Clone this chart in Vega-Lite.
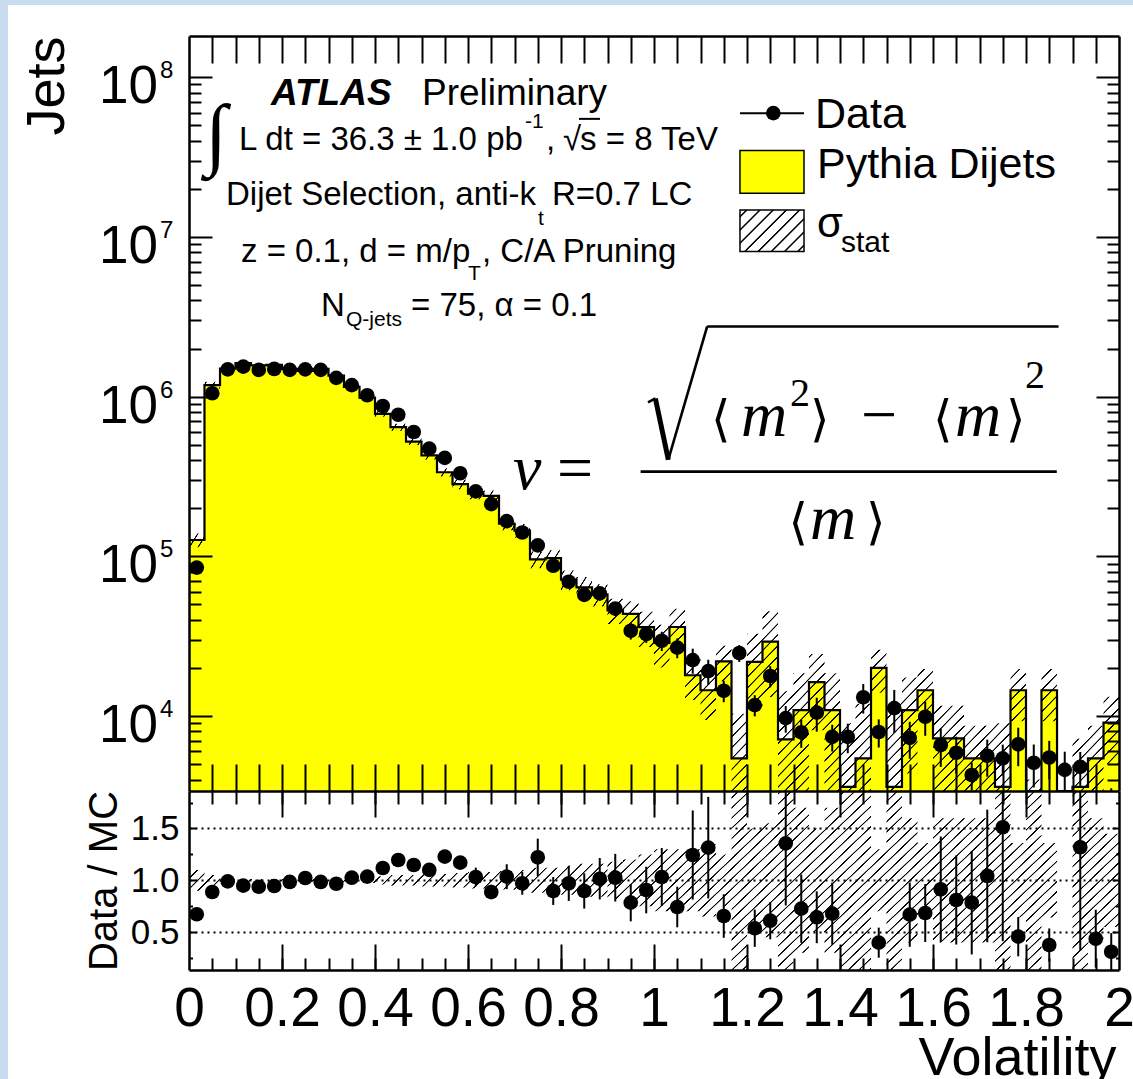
{
  "$schema": "https://vega.github.io/schema/vega-lite/v6.json",
  "width": 930,
  "height": 934,
  "autosize": {"type": "none"},
  "padding": {"left": 189, "top": 36, "right": 14, "bottom": 109},
  "background": "#c8dcef",
  "config": {
    "view": {"stroke": null},
    "axis": {"labelFont": "Liberation Sans", "titleFont": "Liberation Sans", "titleFontWeight": "normal", "labelColor": "black", "titleColor": "black", "tickColor": "black", "domainColor": "black", "grid": false}
  },
  "params": [
    {"name": "hatchA", "value": {"gradient": "linear", "x1": 0, "y1": 0, "x2": 1.2045, "y2": 0.4397, "stops": [
{"offset":0.0045,"color":"transparent"},{"offset":0.0055,"color":"#000"},{"offset":0.0070,"color":"#000"},{"offset":0.0079,"color":"transparent"},
{"offset":0.0197,"color":"transparent"},{"offset":0.0206,"color":"#000"},{"offset":0.0221,"color":"#000"},{"offset":0.0230,"color":"transparent"},
{"offset":0.0348,"color":"transparent"},{"offset":0.0358,"color":"#000"},{"offset":0.0373,"color":"#000"},{"offset":0.0382,"color":"transparent"},
{"offset":0.0500,"color":"transparent"},{"offset":0.0509,"color":"#000"},{"offset":0.0524,"color":"#000"},{"offset":0.0533,"color":"transparent"},
{"offset":0.0652,"color":"transparent"},{"offset":0.0661,"color":"#000"},{"offset":0.0676,"color":"#000"},{"offset":0.0685,"color":"transparent"},
{"offset":0.0803,"color":"transparent"},{"offset":0.0812,"color":"#000"},{"offset":0.0827,"color":"#000"},{"offset":0.0836,"color":"transparent"},
{"offset":0.0955,"color":"transparent"},{"offset":0.0964,"color":"#000"},{"offset":0.0979,"color":"#000"},{"offset":0.0988,"color":"transparent"},
{"offset":0.1106,"color":"transparent"},{"offset":0.1115,"color":"#000"},{"offset":0.1130,"color":"#000"},{"offset":0.1139,"color":"transparent"},
{"offset":0.1258,"color":"transparent"},{"offset":0.1267,"color":"#000"},{"offset":0.1282,"color":"#000"},{"offset":0.1291,"color":"transparent"},
{"offset":0.1409,"color":"transparent"},{"offset":0.1418,"color":"#000"},{"offset":0.1433,"color":"#000"},{"offset":0.1442,"color":"transparent"},
{"offset":0.1561,"color":"transparent"},{"offset":0.1570,"color":"#000"},{"offset":0.1585,"color":"#000"},{"offset":0.1594,"color":"transparent"},
{"offset":0.1712,"color":"transparent"},{"offset":0.1721,"color":"#000"},{"offset":0.1736,"color":"#000"},{"offset":0.1745,"color":"transparent"},
{"offset":0.1864,"color":"transparent"},{"offset":0.1873,"color":"#000"},{"offset":0.1888,"color":"#000"},{"offset":0.1897,"color":"transparent"},
{"offset":0.2015,"color":"transparent"},{"offset":0.2024,"color":"#000"},{"offset":0.2039,"color":"#000"},{"offset":0.2048,"color":"transparent"},
{"offset":0.2167,"color":"transparent"},{"offset":0.2176,"color":"#000"},{"offset":0.2191,"color":"#000"},{"offset":0.2200,"color":"transparent"},
{"offset":0.2318,"color":"transparent"},{"offset":0.2327,"color":"#000"},{"offset":0.2342,"color":"#000"},{"offset":0.2351,"color":"transparent"},
{"offset":0.2470,"color":"transparent"},{"offset":0.2479,"color":"#000"},{"offset":0.2494,"color":"#000"},{"offset":0.2503,"color":"transparent"},
{"offset":0.2621,"color":"transparent"},{"offset":0.2630,"color":"#000"},{"offset":0.2645,"color":"#000"},{"offset":0.2654,"color":"transparent"},
{"offset":0.2773,"color":"transparent"},{"offset":0.2782,"color":"#000"},{"offset":0.2797,"color":"#000"},{"offset":0.2806,"color":"transparent"},
{"offset":0.2924,"color":"transparent"},{"offset":0.2933,"color":"#000"},{"offset":0.2948,"color":"#000"},{"offset":0.2957,"color":"transparent"},
{"offset":0.3076,"color":"transparent"},{"offset":0.3085,"color":"#000"},{"offset":0.3100,"color":"#000"},{"offset":0.3109,"color":"transparent"},
{"offset":0.3227,"color":"transparent"},{"offset":0.3236,"color":"#000"},{"offset":0.3251,"color":"#000"},{"offset":0.3260,"color":"transparent"},
{"offset":0.3379,"color":"transparent"},{"offset":0.3388,"color":"#000"},{"offset":0.3403,"color":"#000"},{"offset":0.3412,"color":"transparent"},
{"offset":0.3530,"color":"transparent"},{"offset":0.3539,"color":"#000"},{"offset":0.3554,"color":"#000"},{"offset":0.3563,"color":"transparent"},
{"offset":0.3682,"color":"transparent"},{"offset":0.3691,"color":"#000"},{"offset":0.3706,"color":"#000"},{"offset":0.3715,"color":"transparent"},
{"offset":0.3833,"color":"transparent"},{"offset":0.3842,"color":"#000"},{"offset":0.3857,"color":"#000"},{"offset":0.3866,"color":"transparent"},
{"offset":0.3985,"color":"transparent"},{"offset":0.3994,"color":"#000"},{"offset":0.4009,"color":"#000"},{"offset":0.4018,"color":"transparent"},
{"offset":0.4136,"color":"transparent"},{"offset":0.4145,"color":"#000"},{"offset":0.4160,"color":"#000"},{"offset":0.4169,"color":"transparent"},
{"offset":0.4288,"color":"transparent"},{"offset":0.4297,"color":"#000"},{"offset":0.4312,"color":"#000"},{"offset":0.4321,"color":"transparent"},
{"offset":0.4439,"color":"transparent"},{"offset":0.4448,"color":"#000"},{"offset":0.4463,"color":"#000"},{"offset":0.4472,"color":"transparent"},
{"offset":0.4591,"color":"transparent"},{"offset":0.4600,"color":"#000"},{"offset":0.4615,"color":"#000"},{"offset":0.4624,"color":"transparent"},
{"offset":0.4742,"color":"transparent"},{"offset":0.4751,"color":"#000"},{"offset":0.4766,"color":"#000"},{"offset":0.4775,"color":"transparent"},
{"offset":0.4894,"color":"transparent"},{"offset":0.4903,"color":"#000"},{"offset":0.4918,"color":"#000"},{"offset":0.4927,"color":"transparent"},
{"offset":0.5045,"color":"transparent"},{"offset":0.5054,"color":"#000"},{"offset":0.5070,"color":"#000"},{"offset":0.5079,"color":"transparent"},
{"offset":0.5197,"color":"transparent"},{"offset":0.5206,"color":"#000"},{"offset":0.5221,"color":"#000"},{"offset":0.5230,"color":"transparent"},
{"offset":0.5348,"color":"transparent"},{"offset":0.5358,"color":"#000"},{"offset":0.5373,"color":"#000"},{"offset":0.5382,"color":"transparent"},
{"offset":0.5500,"color":"transparent"},{"offset":0.5509,"color":"#000"},{"offset":0.5524,"color":"#000"},{"offset":0.5533,"color":"transparent"},
{"offset":0.5652,"color":"transparent"},{"offset":0.5661,"color":"#000"},{"offset":0.5676,"color":"#000"},{"offset":0.5685,"color":"transparent"},
{"offset":0.5803,"color":"transparent"},{"offset":0.5812,"color":"#000"},{"offset":0.5827,"color":"#000"},{"offset":0.5836,"color":"transparent"},
{"offset":0.5955,"color":"transparent"},{"offset":0.5964,"color":"#000"},{"offset":0.5979,"color":"#000"},{"offset":0.5988,"color":"transparent"},
{"offset":0.6106,"color":"transparent"},{"offset":0.6115,"color":"#000"},{"offset":0.6130,"color":"#000"},{"offset":0.6139,"color":"transparent"},
{"offset":0.6258,"color":"transparent"},{"offset":0.6267,"color":"#000"},{"offset":0.6282,"color":"#000"},{"offset":0.6291,"color":"transparent"},
{"offset":0.6409,"color":"transparent"},{"offset":0.6418,"color":"#000"},{"offset":0.6433,"color":"#000"},{"offset":0.6442,"color":"transparent"},
{"offset":0.6561,"color":"transparent"},{"offset":0.6570,"color":"#000"},{"offset":0.6585,"color":"#000"},{"offset":0.6594,"color":"transparent"},
{"offset":0.6712,"color":"transparent"},{"offset":0.6721,"color":"#000"},{"offset":0.6736,"color":"#000"},{"offset":0.6745,"color":"transparent"},
{"offset":0.6864,"color":"transparent"},{"offset":0.6873,"color":"#000"},{"offset":0.6888,"color":"#000"},{"offset":0.6897,"color":"transparent"},
{"offset":0.7015,"color":"transparent"},{"offset":0.7024,"color":"#000"},{"offset":0.7039,"color":"#000"},{"offset":0.7048,"color":"transparent"},
{"offset":0.7167,"color":"transparent"},{"offset":0.7176,"color":"#000"},{"offset":0.7191,"color":"#000"},{"offset":0.7200,"color":"transparent"},
{"offset":0.7318,"color":"transparent"},{"offset":0.7327,"color":"#000"},{"offset":0.7342,"color":"#000"},{"offset":0.7351,"color":"transparent"},
{"offset":0.7470,"color":"transparent"},{"offset":0.7479,"color":"#000"},{"offset":0.7494,"color":"#000"},{"offset":0.7503,"color":"transparent"},
{"offset":0.7621,"color":"transparent"},{"offset":0.7630,"color":"#000"},{"offset":0.7645,"color":"#000"},{"offset":0.7654,"color":"transparent"},
{"offset":0.7773,"color":"transparent"},{"offset":0.7782,"color":"#000"},{"offset":0.7797,"color":"#000"},{"offset":0.7806,"color":"transparent"},
{"offset":0.7924,"color":"transparent"},{"offset":0.7933,"color":"#000"},{"offset":0.7948,"color":"#000"},{"offset":0.7957,"color":"transparent"},
{"offset":0.8076,"color":"transparent"},{"offset":0.8085,"color":"#000"},{"offset":0.8100,"color":"#000"},{"offset":0.8109,"color":"transparent"},
{"offset":0.8227,"color":"transparent"},{"offset":0.8236,"color":"#000"},{"offset":0.8251,"color":"#000"},{"offset":0.8260,"color":"transparent"},
{"offset":0.8379,"color":"transparent"},{"offset":0.8388,"color":"#000"},{"offset":0.8403,"color":"#000"},{"offset":0.8412,"color":"transparent"},
{"offset":0.8530,"color":"transparent"},{"offset":0.8539,"color":"#000"},{"offset":0.8554,"color":"#000"},{"offset":0.8563,"color":"transparent"},
{"offset":0.8682,"color":"transparent"},{"offset":0.8691,"color":"#000"},{"offset":0.8706,"color":"#000"},{"offset":0.8715,"color":"transparent"},
{"offset":0.8833,"color":"transparent"},{"offset":0.8842,"color":"#000"},{"offset":0.8857,"color":"#000"},{"offset":0.8866,"color":"transparent"},
{"offset":0.8985,"color":"transparent"},{"offset":0.8994,"color":"#000"},{"offset":0.9009,"color":"#000"},{"offset":0.9018,"color":"transparent"},
{"offset":0.9136,"color":"transparent"},{"offset":0.9145,"color":"#000"},{"offset":0.9160,"color":"#000"},{"offset":0.9169,"color":"transparent"},
{"offset":0.9288,"color":"transparent"},{"offset":0.9297,"color":"#000"},{"offset":0.9312,"color":"#000"},{"offset":0.9321,"color":"transparent"},
{"offset":0.9439,"color":"transparent"},{"offset":0.9448,"color":"#000"},{"offset":0.9463,"color":"#000"},{"offset":0.9472,"color":"transparent"},
{"offset":0.9591,"color":"transparent"},{"offset":0.9600,"color":"#000"},{"offset":0.9615,"color":"#000"},{"offset":0.9624,"color":"transparent"},
{"offset":0.9742,"color":"transparent"},{"offset":0.9751,"color":"#000"},{"offset":0.9766,"color":"#000"},{"offset":0.9775,"color":"transparent"},
{"offset":0.9894,"color":"transparent"},{"offset":0.9903,"color":"#000"},{"offset":0.9918,"color":"#000"},{"offset":0.9927,"color":"transparent"}
    ]}},
    {"name": "hatchB", "value": {"gradient": "linear", "x1": 0, "y1": 0, "x2": 1.0725, "y2": 0.0849, "stops": [
{"offset":0.0070,"color":"transparent"},{"offset":0.0084,"color":"#000"},{"offset":0.0107,"color":"#000"},{"offset":0.0121,"color":"transparent"},
{"offset":0.0302,"color":"transparent"},{"offset":0.0316,"color":"#000"},{"offset":0.0340,"color":"#000"},{"offset":0.0353,"color":"transparent"},
{"offset":0.0535,"color":"transparent"},{"offset":0.0549,"color":"#000"},{"offset":0.0572,"color":"#000"},{"offset":0.0586,"color":"transparent"},
{"offset":0.0767,"color":"transparent"},{"offset":0.0781,"color":"#000"},{"offset":0.0805,"color":"#000"},{"offset":0.0819,"color":"transparent"},
{"offset":0.1000,"color":"transparent"},{"offset":0.1014,"color":"#000"},{"offset":0.1037,"color":"#000"},{"offset":0.1051,"color":"transparent"},
{"offset":0.1233,"color":"transparent"},{"offset":0.1247,"color":"#000"},{"offset":0.1270,"color":"#000"},{"offset":0.1284,"color":"transparent"},
{"offset":0.1465,"color":"transparent"},{"offset":0.1479,"color":"#000"},{"offset":0.1502,"color":"#000"},{"offset":0.1516,"color":"transparent"},
{"offset":0.1698,"color":"transparent"},{"offset":0.1712,"color":"#000"},{"offset":0.1735,"color":"#000"},{"offset":0.1749,"color":"transparent"},
{"offset":0.1930,"color":"transparent"},{"offset":0.1944,"color":"#000"},{"offset":0.1967,"color":"#000"},{"offset":0.1981,"color":"transparent"},
{"offset":0.2163,"color":"transparent"},{"offset":0.2177,"color":"#000"},{"offset":0.2200,"color":"#000"},{"offset":0.2214,"color":"transparent"},
{"offset":0.2395,"color":"transparent"},{"offset":0.2409,"color":"#000"},{"offset":0.2433,"color":"#000"},{"offset":0.2447,"color":"transparent"},
{"offset":0.2628,"color":"transparent"},{"offset":0.2642,"color":"#000"},{"offset":0.2665,"color":"#000"},{"offset":0.2679,"color":"transparent"},
{"offset":0.2860,"color":"transparent"},{"offset":0.2874,"color":"#000"},{"offset":0.2898,"color":"#000"},{"offset":0.2912,"color":"transparent"},
{"offset":0.3093,"color":"transparent"},{"offset":0.3107,"color":"#000"},{"offset":0.3130,"color":"#000"},{"offset":0.3144,"color":"transparent"},
{"offset":0.3326,"color":"transparent"},{"offset":0.3340,"color":"#000"},{"offset":0.3363,"color":"#000"},{"offset":0.3377,"color":"transparent"},
{"offset":0.3558,"color":"transparent"},{"offset":0.3572,"color":"#000"},{"offset":0.3595,"color":"#000"},{"offset":0.3609,"color":"transparent"},
{"offset":0.3791,"color":"transparent"},{"offset":0.3805,"color":"#000"},{"offset":0.3828,"color":"#000"},{"offset":0.3842,"color":"transparent"},
{"offset":0.4023,"color":"transparent"},{"offset":0.4037,"color":"#000"},{"offset":0.4060,"color":"#000"},{"offset":0.4074,"color":"transparent"},
{"offset":0.4256,"color":"transparent"},{"offset":0.4270,"color":"#000"},{"offset":0.4293,"color":"#000"},{"offset":0.4307,"color":"transparent"},
{"offset":0.4488,"color":"transparent"},{"offset":0.4502,"color":"#000"},{"offset":0.4526,"color":"#000"},{"offset":0.4540,"color":"transparent"},
{"offset":0.4721,"color":"transparent"},{"offset":0.4735,"color":"#000"},{"offset":0.4758,"color":"#000"},{"offset":0.4772,"color":"transparent"},
{"offset":0.4953,"color":"transparent"},{"offset":0.4967,"color":"#000"},{"offset":0.4991,"color":"#000"},{"offset":0.5005,"color":"transparent"},
{"offset":0.5186,"color":"transparent"},{"offset":0.5200,"color":"#000"},{"offset":0.5223,"color":"#000"},{"offset":0.5237,"color":"transparent"},
{"offset":0.5419,"color":"transparent"},{"offset":0.5433,"color":"#000"},{"offset":0.5456,"color":"#000"},{"offset":0.5470,"color":"transparent"},
{"offset":0.5651,"color":"transparent"},{"offset":0.5665,"color":"#000"},{"offset":0.5688,"color":"#000"},{"offset":0.5702,"color":"transparent"},
{"offset":0.5884,"color":"transparent"},{"offset":0.5898,"color":"#000"},{"offset":0.5921,"color":"#000"},{"offset":0.5935,"color":"transparent"},
{"offset":0.6116,"color":"transparent"},{"offset":0.6130,"color":"#000"},{"offset":0.6153,"color":"#000"},{"offset":0.6167,"color":"transparent"},
{"offset":0.6349,"color":"transparent"},{"offset":0.6363,"color":"#000"},{"offset":0.6386,"color":"#000"},{"offset":0.6400,"color":"transparent"},
{"offset":0.6581,"color":"transparent"},{"offset":0.6595,"color":"#000"},{"offset":0.6619,"color":"#000"},{"offset":0.6633,"color":"transparent"},
{"offset":0.6814,"color":"transparent"},{"offset":0.6828,"color":"#000"},{"offset":0.6851,"color":"#000"},{"offset":0.6865,"color":"transparent"},
{"offset":0.7047,"color":"transparent"},{"offset":0.7061,"color":"#000"},{"offset":0.7084,"color":"#000"},{"offset":0.7098,"color":"transparent"},
{"offset":0.7279,"color":"transparent"},{"offset":0.7293,"color":"#000"},{"offset":0.7316,"color":"#000"},{"offset":0.7330,"color":"transparent"},
{"offset":0.7512,"color":"transparent"},{"offset":0.7526,"color":"#000"},{"offset":0.7549,"color":"#000"},{"offset":0.7563,"color":"transparent"},
{"offset":0.7744,"color":"transparent"},{"offset":0.7758,"color":"#000"},{"offset":0.7781,"color":"#000"},{"offset":0.7795,"color":"transparent"},
{"offset":0.7977,"color":"transparent"},{"offset":0.7991,"color":"#000"},{"offset":0.8014,"color":"#000"},{"offset":0.8028,"color":"transparent"},
{"offset":0.8209,"color":"transparent"},{"offset":0.8223,"color":"#000"},{"offset":0.8247,"color":"#000"},{"offset":0.8260,"color":"transparent"},
{"offset":0.8442,"color":"transparent"},{"offset":0.8456,"color":"#000"},{"offset":0.8479,"color":"#000"},{"offset":0.8493,"color":"transparent"},
{"offset":0.8674,"color":"transparent"},{"offset":0.8688,"color":"#000"},{"offset":0.8712,"color":"#000"},{"offset":0.8726,"color":"transparent"},
{"offset":0.8907,"color":"transparent"},{"offset":0.8921,"color":"#000"},{"offset":0.8944,"color":"#000"},{"offset":0.8958,"color":"transparent"},
{"offset":0.9140,"color":"transparent"},{"offset":0.9154,"color":"#000"},{"offset":0.9177,"color":"#000"},{"offset":0.9191,"color":"transparent"},
{"offset":0.9372,"color":"transparent"},{"offset":0.9386,"color":"#000"},{"offset":0.9409,"color":"#000"},{"offset":0.9423,"color":"transparent"},
{"offset":0.9605,"color":"transparent"},{"offset":0.9619,"color":"#000"},{"offset":0.9642,"color":"#000"},{"offset":0.9656,"color":"transparent"},
{"offset":0.9837,"color":"transparent"},{"offset":0.9851,"color":"#000"},{"offset":0.9874,"color":"#000"},{"offset":0.9888,"color":"transparent"}
    ]}}
  ],
  "datasets": {
    "edges": [
      {"x":0,"mc":126500},{"x":0.0333,"mc":1180000},{"x":0.0667,"mc":1495000},{"x":0.1,"mc":1620000},{"x":0.1333,"mc":1570000},
      {"x":0.1667,"mc":1580000},{"x":0.2,"mc":1490000},{"x":0.2333,"mc":1450000},{"x":0.2667,"mc":1490000},{"x":0.3,"mc":1355000},
      {"x":0.3333,"mc":1150000},{"x":0.3667,"mc":986000},{"x":0.4,"mc":780000},{"x":0.4333,"mc":644000},{"x":0.4667,"mc":523000},
      {"x":0.5,"mc":429000},{"x":0.5333,"mc":336000},{"x":0.5667,"mc":283000},{"x":0.6,"mc":247000},{"x":0.6333,"mc":239000},
      {"x":0.6667,"mc":160000},{"x":0.7,"mc":145000},{"x":0.7333,"mc":95700},{"x":0.7667,"mc":97300},{"x":0.8,"mc":71400},
      {"x":0.8333,"mc":63900},{"x":0.8667,"mc":57700},{"x":0.9,"mc":45900},{"x":0.9333,"mc":43600},{"x":0.9667,"mc":36000},
      {"x":1.0,"mc":28700},{"x":1.0333,"mc":36100},{"x":1.0667,"mc":18000},{"x":1.1,"mc":14500},{"x":1.1333,"mc":22000},
      {"x":1.1667,"mc":5430},{"x":1.2,"mc":21800},{"x":1.2333,"mc":29200},{"x":1.2667,"mc":7150},{"x":1.3,"mc":10900},
      {"x":1.3333,"mc":16300},{"x":1.3667,"mc":10900},{"x":1.4,"mc":3600},{"x":1.4333,"mc":5430},{"x":1.4667,"mc":20000},
      {"x":1.5,"mc":3600},{"x":1.5333,"mc":10900},{"x":1.5667,"mc":14500},{"x":1.6,"mc":7250},{"x":1.6333,"mc":7250},
      {"x":1.6667,"mc":5430},{"x":1.7,"mc":5430},{"x":1.7333,"mc":3600},{"x":1.7667,"mc":14500},{"x":1.8,"mc":2000},
      {"x":1.8333,"mc":14500},{"x":1.8667,"mc":1000},{"x":1.9,"mc":3600},{"x":1.9333,"mc":5430},{"x":1.9667,"mc":9100},
      {"x":2.0,"mc":9100}
    ],
    "bandL": [
      {"x":0,"bhi":139150,"blo":113850,"qhi":1.1,"qlo":0.9},
      {"x":0.0333,"bhi":1239000,"blo":1121000,"qhi":1.05,"qlo":0.95},
      {"x":0.0667,"bhi":1517400,"blo":1472600,"qhi":1.015,"qlo":0.985},
      {"x":0.1,"bhi":1639400,"blo":1600600,"qhi":1.012,"qlo":0.988},
      {"x":0.1333,"bhi":1588800,"blo":1551200,"qhi":1.012,"qlo":0.988},
      {"x":0.1667,"bhi":1599000,"blo":1561000,"qhi":1.012,"qlo":0.988},
      {"x":0.2,"bhi":1507900,"blo":1472100,"qhi":1.012,"qlo":0.988},
      {"x":0.2333,"bhi":1471800,"blo":1428300,"qhi":1.015,"qlo":0.985},
      {"x":0.2667,"bhi":1512400,"blo":1467700,"qhi":1.015,"qlo":0.985},
      {"x":0.3,"bhi":1382100,"blo":1327900,"qhi":1.02,"qlo":0.98},
      {"x":0.3333,"bhi":1173000,"blo":1127000,"qhi":1.02,"qlo":0.98},
      {"x":0.3667,"bhi":1010650,"blo":961350,"qhi":1.025,"qlo":0.975},
      {"x":0.4,"bhi":811200,"blo":748800,"qhi":1.04,"qlo":0.96},
      {"x":0.4333,"bhi":676200,"blo":611800,"qhi":1.05,"qlo":0.95},
      {"x":0.4667,"bhi":549150,"blo":496850,"qhi":1.05,"qlo":0.95},
      {"x":0.5,"bhi":454740,"blo":403260,"qhi":1.06,"qlo":0.94},
      {"x":0.5333,"bhi":356160,"blo":315840,"qhi":1.06,"qlo":0.94},
      {"x":0.5667,"bhi":302810,"blo":263190,"qhi":1.07,"qlo":0.93},
      {"x":0.6,"bhi":266760,"blo":227240,"qhi":1.08,"qlo":0.92},
      {"x":0.6333,"bhi":258120,"blo":219880,"qhi":1.08,"qlo":0.92},
      {"x":0.6667,"bhi":174400,"blo":145600,"qhi":1.09,"qlo":0.91},
      {"x":0.7,"bhi":159500,"blo":130500,"qhi":1.1,"qlo":0.9},
      {"x":0.7333,"bhi":107180,"blo":84220,"qhi":1.12,"qlo":0.88},
      {"x":0.7667,"bhi":108980,"blo":85620,"qhi":1.12,"qlo":0.88},
      {"x":0.8,"bhi":81400,"blo":61400,"qhi":1.14,"qlo":0.86},
      {"x":0.8333,"bhi":74120,"blo":53680,"qhi":1.16,"qlo":0.84},
      {"x":0.8667,"bhi":66930,"blo":48470,"qhi":1.16,"qlo":0.84},
      {"x":0.9,"bhi":66930,"blo":48470,"qhi":1.16,"qlo":0.84}
    ],
    "bandR": [
      {"x":0.9,"bhi":54160,"blo":37640,"qhi":1.18,"qlo":0.82},
      {"x":0.9333,"bhi":52320,"blo":34880,"qhi":1.2,"qlo":0.8},
      {"x":0.9667,"bhi":45000,"blo":27000,"qhi":1.25,"qlo":0.75},
      {"x":1.0,"bhi":37310,"blo":20090,"qhi":1.3,"qlo":0.7},
      {"x":1.0333,"bhi":46930,"blo":25270,"qhi":1.3,"qlo":0.7},
      {"x":1.0667,"bhi":23400,"blo":12600,"qhi":1.3,"qlo":0.7},
      {"x":1.1,"bhi":19575,"blo":9425,"qhi":1.35,"qlo":0.65},
      {"x":1.1333,"bhi":27500,"blo":16500,"qhi":1.25,"qlo":0.75},
      {"x":1.1667,"bhi":10317,"blo":543,"qhi":1.9,"qlo":0.1},
      {"x":1.2,"bhi":32700,"blo":10900,"qhi":1.5,"qlo":0.5},
      {"x":1.2333,"bhi":45260,"blo":13140,"qhi":1.55,"qlo":0.45},
      {"x":1.2667,"bhi":14300,"blo":1000,"qhi":2,"qlo":0},
      {"x":1.3,"bhi":18530,"blo":3270,"qhi":1.7,"qlo":0.3},
      {"x":1.3333,"bhi":24450,"blo":8150,"qhi":1.5,"qlo":0.5},
      {"x":1.3667,"bhi":18530,"blo":3270,"qhi":1.7,"qlo":0.3},
      {"x":1.4,"bhi":9000,"blo":1000,"qhi":2.5,"qlo":-0.5},
      {"x":1.4333,"bhi":11946,"blo":1000,"qhi":2.2,"qlo":-0.2},
      {"x":1.4667,"bhi":26000,"blo":14000,"qhi":1.3,"qlo":0.7},
      {"x":1.5,"bhi":12600,"blo":1000,"qhi":3.5,"qlo":-1.5},
      {"x":1.5333,"bhi":17440,"blo":4360,"qhi":1.6,"qlo":0.4},
      {"x":1.5667,"bhi":19720,"blo":9280,"qhi":1.36,"qlo":0.64},
      {"x":1.6,"bhi":11600,"blo":2900,"qhi":1.6,"qlo":0.4},
      {"x":1.6333,"bhi":11600,"blo":2900,"qhi":1.6,"qlo":0.4},
      {"x":1.6667,"bhi":8688,"blo":2172,"qhi":1.6,"qlo":0.4},
      {"x":1.7,"bhi":8688,"blo":2172,"qhi":1.6,"qlo":0.4},
      {"x":1.7333,"bhi":9000,"blo":1000,"qhi":2.5,"qlo":-0.5},
      {"x":1.7667,"bhi":19720,"blo":9280,"qhi":1.36,"qlo":0.64},
      {"x":1.8,"bhi":4000,"blo":1000,"qhi":2,"qlo":0},
      {"x":1.8333,"bhi":19720,"blo":9280,"qhi":1.36,"qlo":0.64},
      {"x":1.8667,"bhi":1000,"blo":1000,"qhi":1,"qlo":1},
      {"x":1.9,"bhi":7200,"blo":1000,"qhi":2,"qlo":0},
      {"x":1.9333,"bhi":8688,"blo":2172,"qhi":1.6,"qlo":0.4},
      {"x":1.9667,"bhi":13195,"blo":5005,"qhi":1.45,"qlo":0.55},
      {"x":2.0,"bhi":13195,"blo":5005,"qhi":1.45,"qlo":0.55}
    ],
    "bins": [
      {"c":0.0167,"d":85000,"dlo":84150,"dhi":85850,"r":0.672,"rlo":0.642,"rhi":0.702},
      {"c":0.05,"d":1050000,"dlo":1039500,"dhi":1060500,"r":0.887,"rlo":0.867,"rhi":0.907},
      {"c":0.0833,"d":1480000,"dlo":1465200,"dhi":1494800,"r":0.99,"rlo":0.98,"rhi":1.0},
      {"c":0.1167,"d":1540000,"dlo":1524600,"dhi":1555400,"r":0.948,"rlo":0.938,"rhi":0.958},
      {"c":0.15,"d":1470000,"dlo":1455300,"dhi":1484700,"r":0.938,"rlo":0.928,"rhi":0.948},
      {"c":0.1833,"d":1490000,"dlo":1475100,"dhi":1504900,"r":0.945,"rlo":0.935,"rhi":0.955},
      {"c":0.2167,"d":1470000,"dlo":1455300,"dhi":1484700,"r":0.984,"rlo":0.974,"rhi":0.994},
      {"c":0.25,"d":1480000,"dlo":1465200,"dhi":1494800,"r":1.022,"rlo":1.012,"rhi":1.032},
      {"c":0.2833,"d":1470000,"dlo":1455300,"dhi":1484700,"r":0.984,"rlo":0.974,"rhi":0.994},
      {"c":0.3167,"d":1310000,"dlo":1296900,"dhi":1323100,"r":0.967,"rlo":0.957,"rhi":0.977},
      {"c":0.35,"d":1180000,"dlo":1168200,"dhi":1191800,"r":1.025,"rlo":1.015,"rhi":1.035},
      {"c":0.3833,"d":1020000,"dlo":1009800,"dhi":1030200,"r":1.035,"rlo":1.02,"rhi":1.05},
      {"c":0.4167,"d":873000,"dlo":855500,"dhi":890500,"r":1.119,"rlo":1.089,"rhi":1.149},
      {"c":0.45,"d":770000,"dlo":754600,"dhi":785400,"r":1.196,"rlo":1.166,"rhi":1.226},
      {"c":0.4833,"d":600000,"dlo":585000,"dhi":615000,"r":1.148,"rlo":1.118,"rhi":1.178},
      {"c":0.5167,"d":472000,"dlo":457800,"dhi":486200,"r":1.1,"rlo":1.06,"rhi":1.14},
      {"c":0.55,"d":413000,"dlo":400600,"dhi":425400,"r":1.228,"rlo":1.178,"rhi":1.278},
      {"c":0.5833,"d":331000,"dlo":319400,"dhi":342600,"r":1.17,"rlo":1.12,"rhi":1.22},
      {"c":0.6167,"d":255000,"dlo":244800,"dhi":265200,"r":1.032,"rlo":0.942,"rhi":1.122},
      {"c":0.65,"d":212000,"dlo":201400,"dhi":222600,"r":0.887,"rlo":0.817,"rhi":0.957},
      {"c":0.6833,"d":166000,"dlo":156000,"dhi":176000,"r":1.035,"rlo":0.915,"rhi":1.155},
      {"c":0.7167,"d":141000,"dlo":132500,"dhi":149500,"r":0.971,"rlo":0.861,"rhi":1.081},
      {"c":0.75,"d":117000,"dlo":108800,"dhi":125200,"r":1.222,"rlo":1.042,"rhi":1.402},
      {"c":0.7833,"d":87300,"dlo":80300,"dhi":94300,"r":0.897,"rlo":0.762,"rhi":1.032},
      {"c":0.8167,"d":69300,"dlo":63800,"dhi":74800,"r":0.971,"rlo":0.801,"rhi":1.141},
      {"c":0.85,"d":57300,"dlo":52100,"dhi":62500,"r":0.897,"rlo":0.727,"rhi":1.067},
      {"c":0.8833,"d":58600,"dlo":52700,"dhi":64500,"r":1.015,"rlo":0.815,"rhi":1.215},
      {"c":0.9167,"d":47000,"dlo":42300,"dhi":51700,"r":1.025,"rlo":0.795,"rhi":1.255},
      {"c":0.95,"d":34200,"dlo":30100,"dhi":38300,"r":0.784,"rlo":0.604,"rhi":0.964},
      {"c":0.9833,"d":32600,"dlo":28700,"dhi":36500,"r":0.906,"rlo":0.681,"rhi":1.131},
      {"c":1.0167,"d":29600,"dlo":25500,"dhi":33700,"r":1.032,"rlo":0.752,"rhi":1.312},
      {"c":1.05,"d":26800,"dlo":23000,"dhi":30600,"r":0.742,"rlo":0.546,"rhi":0.938},
      {"c":1.0833,"d":22400,"dlo":18400,"dhi":26400,"r":1.244,"rlo":0.814,"rhi":1.674},
      {"c":1.1167,"d":19100,"dlo":15700,"dhi":22500,"r":1.315,"rlo":0.825,"rhi":1.805},
      {"c":1.15,"d":14400,"dlo":12200,"dhi":16600,"r":0.655,"rlo":0.445,"rhi":0.865},
      {"c":1.1833,"d":24800,"dlo":21800,"dhi":27800,"r":null,"rlo":null,"rhi":null},
      {"c":1.2167,"d":11700,"dlo":9950,"dhi":13500,"r":0.537,"rlo":0.357,"rhi":0.717},
      {"c":1.25,"d":17800,"dlo":15100,"dhi":20500,"r":0.61,"rlo":0.43,"rhi":0.79},
      {"c":1.2833,"d":9700,"dlo":7860,"dhi":11540,"r":1.357,"rlo":0.757,"rhi":1.957},
      {"c":1.3167,"d":7900,"dlo":6320,"dhi":9480,"r":0.726,"rlo":0.396,"rhi":1.056},
      {"c":1.35,"d":10500,"dlo":7980,"dhi":13020,"r":0.643,"rlo":0.393,"rhi":0.893},
      {"c":1.3833,"d":7400,"dlo":5990,"dhi":8810,"r":0.678,"rlo":0.378,"rhi":0.978},
      {"c":1.4167,"d":7400,"dlo":5850,"dhi":8950,"r":null,"rlo":null,"rhi":null},
      {"c":1.45,"d":13100,"dlo":10350,"dhi":15850,"r":null,"rlo":null,"rhi":null},
      {"c":1.4833,"d":7940,"dlo":6350,"dhi":9530,"r":0.398,"rlo":0.253,"rhi":0.543},
      {"c":1.5167,"d":11200,"dlo":7840,"dhi":14560,"r":null,"rlo":null,"rhi":null},
      {"c":1.55,"d":7300,"dlo":5400,"dhi":9200,"r":0.668,"rlo":0.358,"rhi":0.978},
      {"c":1.5833,"d":9900,"dlo":7520,"dhi":12280,"r":0.684,"rlo":0.404,"rhi":0.964},
      {"c":1.6167,"d":6580,"dlo":4800,"dhi":8360,"r":0.913,"rlo":0.403,"rhi":1.423},
      {"c":1.65,"d":5890,"dlo":4360,"dhi":7420,"r":0.81,"rlo":0.38,"rhi":1.24},
      {"c":1.6833,"d":4270,"dlo":3420,"dhi":5120,"r":0.784,"rlo":0.284,"rhi":1.284},
      {"c":1.7167,"d":5640,"dlo":4170,"dhi":7110,"r":1.042,"rlo":0.402,"rhi":1.682},
      {"c":1.75,"d":5430,"dlo":4240,"dhi":6620,"r":1.512,"rlo":0.412,"rhi":2.612},
      {"c":1.7833,"d":6650,"dlo":4850,"dhi":8450,"r":0.456,"rlo":0.266,"rhi":0.646},
      {"c":1.8167,"d":5100,"dlo":3570,"dhi":6630,"r":null,"rlo":null,"rhi":null},
      {"c":1.85,"d":5500,"dlo":4020,"dhi":6990,"r":0.375,"rlo":0.215,"rhi":0.535},
      {"c":1.8833,"d":4600,"dlo":3220,"dhi":5980,"r":null,"rlo":null,"rhi":null},
      {"c":1.9167,"d":4800,"dlo":3650,"dhi":5950,"r":1.319,"rlo":0.319,"rhi":2.319},
      {"c":1.95,"d":2370,"dlo":1730,"dhi":3010,"r":0.436,"rlo":0.156,"rhi":0.716},
      {"c":1.9833,"d":2820,"dlo":2120,"dhi":3530,"r":0.31,"rlo":0.13,"rhi":0.49}
    ]
  },
  "resolve": {"scale": {"y": "independent"}, "axis": {"x": "independent", "y": "independent"}},
  "layer": [
    {
      "description": "white page sheet inside the light-blue slide border",
      "data": {"values": [{}]},
      "mark": {"type": "rect", "fill": "white"},
      "encoding": {
        "x": {"datum": -0.3892, "type": "quantitative", "scale": {"domain": [0, 2], "nice": false, "zero": false}, "axis": null},
        "x2": {"datum": 2.045},
        "y": {"datum": 283600000, "type": "quantitative", "scale": {"type": "log", "domain": [3392, 181100000], "range": [755, 0], "clamp": false, "nice": false}, "axis": null},
        "y2": {"datum": 45.6}
      }
    },
    {
      "data": {"name": "edges"},
      "mark": {"type": "area", "interpolate": "step-after", "fill": "#ffff00"},
      "encoding": {
        "x": {"field": "x", "type": "quantitative",
          "axis": {"orient": "bottom", "values": [0,0.2,0.4,0.6,0.8,1,1.2,1.4,1.6,1.8,2], "format": "~g", "ticks": false, "domain": false, "labelFontSize": 55, "labelPadding": 12, "labelFlush": false, "labelOverlap": false, "labelBound": false, "zindex": 1,
            "title": "Volatility", "titleFontSize": 54, "titleAlign": "right", "titleAnchor": "end", "titleX": 927, "titleY": 104, "titleBaseline": "alphabetic"}},
        "y": {"field": "mc", "type": "quantitative", "scale": {"type": "log", "domain": [3392, 181100000], "range": [755, 0], "clamp": true, "nice": false},
          "axis": {"orient": "left", "values": [10000,100000,1000000,10000000,100000000], "labels": false, "tickSize": -23, "tickWidth": 2, "domain": true, "domainWidth": 2.5, "zindex": 1,
            "title": "Jets", "titleFontSize": 54, "titleAlign": "right", "titleAnchor": "end", "titleX": -126, "titleY": 0, "titleBaseline": "alphabetic"}},
        "y2": {"datum": 1000}
      }
    },
    {
      "data": {"name": "bandL"},
      "mark": {"type": "area", "interpolate": "step-after", "fill": {"expr": "hatchA"}},
      "encoding": {
        "x": {"field": "x", "type": "quantitative",
          "axis": {"orient": "bottom", "values": [0.2,0.4,0.6,0.8,1,1.2,1.4,1.6,1.8], "labels": false, "tickSize": -26, "tickWidth": 2, "domain": true, "domainWidth": 2.5, "title": null, "zindex": 1}},
        "y": {"field": "bhi", "type": "quantitative", "scale": {"type": "log", "domain": [3392, 181100000], "range": [755, 0], "clamp": true, "nice": false},
          "axis": {"orient": "left", "values": [4000,5000,6000,7000,8000,9000,20000,30000,40000,50000,60000,70000,80000,90000,200000,300000,400000,500000,600000,700000,800000,900000,2000000,3000000,4000000,5000000,6000000,7000000,8000000,9000000,20000000,30000000,40000000,50000000,60000000,70000000,80000000,90000000], "labels": false, "tickSize": -12, "tickWidth": 2, "domain": false, "title": null, "zindex": 1}},
        "y2": {"field": "blo"}
      }
    },
    {
      "data": {"name": "bandR"},
      "mark": {"type": "area", "interpolate": "step-after", "fill": {"expr": "hatchA"}},
      "encoding": {
        "x": {"field": "x", "type": "quantitative",
          "axis": {"orient": "bottom", "values": [0.05,0.1,0.15,0.2,0.25,0.3,0.35,0.4,0.45,0.5,0.55,0.6,0.65,0.7,0.75,0.8,0.85,0.9,0.95,1,1.05,1.1,1.15,1.2,1.25,1.3,1.35,1.4,1.45,1.5,1.55,1.6,1.65,1.7,1.75,1.8,1.85,1.9,1.95], "labels": false, "tickSize": -12, "tickWidth": 2, "domain": false, "title": null, "zindex": 1}},
        "y": {"field": "bhi", "type": "quantitative", "scale": {"type": "log", "domain": [3392, 181100000], "range": [755, 0], "clamp": true, "nice": false},
          "axis": {"orient": "right", "values": [10000,100000,1000000,10000000,100000000], "labels": false, "tickSize": -23, "tickWidth": 2, "domain": true, "domainWidth": 2.5, "title": null, "zindex": 1}},
        "y2": {"field": "blo"}
      }
    },
    {
      "data": {"name": "edges"},
      "mark": {"type": "line", "interpolate": "step-after", "color": "black", "strokeWidth": 2.2},
      "encoding": {
        "x": {"field": "x", "type": "quantitative",
          "axis": {"orient": "top", "offset": -755, "values": [0.2,0.4,0.6,0.8,1,1.2,1.4,1.6,1.8], "labels": false, "tickSize": -26, "tickWidth": 2, "domain": true, "domainWidth": 2.5, "title": null, "zindex": 1}},
        "y": {"field": "mc", "type": "quantitative", "scale": {"type": "log", "domain": [3392, 181100000], "range": [755, 0], "clamp": true, "nice": false},
          "axis": {"orient": "right", "values": [4000,5000,6000,7000,8000,9000,20000,30000,40000,50000,60000,70000,80000,90000,200000,300000,400000,500000,600000,700000,800000,900000,2000000,3000000,4000000,5000000,6000000,7000000,8000000,9000000,20000000,30000000,40000000,50000000,60000000,70000000,80000000,90000000], "labels": false, "tickSize": -12, "tickWidth": 2, "domain": false, "title": null, "zindex": 1}}
      }
    },
    {
      "data": {"name": "bins"},
      "mark": {"type": "rule", "color": "black", "strokeWidth": 2},
      "encoding": {
        "x": {"field": "c", "type": "quantitative",
          "axis": {"orient": "top", "offset": -755, "values": [0.05,0.1,0.15,0.2,0.25,0.3,0.35,0.4,0.45,0.5,0.55,0.6,0.65,0.7,0.75,0.8,0.85,0.9,0.95,1,1.05,1.1,1.15,1.2,1.25,1.3,1.35,1.4,1.45,1.5,1.55,1.6,1.65,1.7,1.75,1.8,1.85,1.9,1.95], "labels": false, "tickSize": -13, "tickWidth": 2, "domain": false, "title": null, "zindex": 1}},
        "y": {"field": "dlo", "type": "quantitative", "scale": {"type": "log", "domain": [3392, 181100000], "range": [755, 0], "clamp": true, "nice": false}, "axis": null},
        "y2": {"field": "dhi"}
      }
    },
    {
      "data": {"name": "bins"},
      "transform": [{"filter": "datum.d >= 3392"}],
      "mark": {"type": "circle", "size": 215, "color": "black", "opacity": 1},
      "encoding": {
        "x": {"field": "c", "type": "quantitative",
          "axis": {"orient": "bottom", "offset": -179, "values": [0.05,0.1,0.15,0.2,0.25,0.3,0.35,0.4,0.45,0.5,0.55,0.6,0.65,0.7,0.75,0.8,0.85,0.9,0.95,1,1.05,1.1,1.15,1.2,1.25,1.3,1.35,1.4,1.45,1.5,1.55,1.6,1.65,1.7,1.75,1.8,1.85,1.9,1.95], "labels": false, "tickSize": -27, "tickWidth": 2, "domain": false, "title": null, "zindex": 1}},
        "y": {"field": "d", "type": "quantitative", "scale": {"type": "log", "domain": [3392, 181100000], "range": [755, 0], "clamp": true, "nice": false}, "axis": null}
      }
    },
    {
      "data": {"name": "bandL"},
      "mark": {"type": "area", "interpolate": "step-after", "fill": {"expr": "hatchB"}},
      "encoding": {
        "x": {"field": "x", "type": "quantitative",
          "axis": {"orient": "top", "values": [0.05,0.1,0.15,0.2,0.25,0.3,0.35,0.4,0.45,0.5,0.55,0.6,0.65,0.7,0.75,0.8,0.85,0.9,0.95,1,1.05,1.1,1.15,1.2,1.25,1.3,1.35,1.4,1.45,1.5,1.55,1.6,1.65,1.7,1.75,1.8,1.85,1.9,1.95], "labels": false, "tickSize": -27, "tickWidth": 2, "domain": true, "domainWidth": 2.5, "title": null, "zindex": 1}},
        "y": {"field": "qhi", "type": "quantitative", "scale": {"domain": [0.134, 1.862], "range": [934, 755], "clamp": true, "nice": false, "zero": false},
          "axis": {"orient": "left", "values": [0.5, 1, 1.5], "format": ".1f", "ticks": false, "domain": false, "grid": true, "gridDash": [2, 4], "gridColor": "black", "gridWidth": 2, "labelFontSize": 35, "labelPadding": 10,
            "title": "Data / MC", "titleFontSize": 40, "titleX": -73, "titleBaseline": "alphabetic", "zindex": 1}},
        "y2": {"field": "qlo"}
      }
    },
    {
      "data": {"name": "bandR"},
      "mark": {"type": "area", "interpolate": "step-after", "fill": {"expr": "hatchA"}},
      "encoding": {
        "x": {"field": "x", "type": "quantitative", "axis": null},
        "y": {"field": "qhi", "type": "quantitative", "scale": {"domain": [0.134, 1.862], "range": [934, 755], "clamp": true, "nice": false, "zero": false},
          "axis": {"orient": "left", "values": [0.5, 1, 1.5], "labels": false, "tickSize": -7, "tickWidth": 2, "domain": true, "domainWidth": 2.5, "title": null, "zindex": 1}},
        "y2": {"field": "qlo"}
      }
    },
    {
      "data": {"name": "bins"},
      "mark": {"type": "rule", "color": "black", "strokeWidth": 2},
      "encoding": {
        "x": {"field": "c", "type": "quantitative", "axis": null},
        "y": {"field": "rlo", "type": "quantitative", "scale": {"domain": [0.134, 1.862], "range": [934, 755], "clamp": true, "nice": false, "zero": false},
          "axis": {"orient": "left", "values": [0.25, 0.75, 1.25, 1.75], "labels": false, "tickSize": -3.5, "tickWidth": 2, "domain": false, "title": null, "zindex": 1}},
        "y2": {"field": "rhi"}
      }
    },
    {
      "data": {"name": "bins"},
      "mark": {"type": "circle", "size": 215, "color": "black", "opacity": 1},
      "encoding": {
        "x": {"field": "c", "type": "quantitative", "axis": null},
        "y": {"field": "r", "type": "quantitative", "scale": {"domain": [0.134, 1.862], "range": [934, 755], "clamp": true, "nice": false, "zero": false},
          "axis": {"orient": "right", "values": [0.5, 1, 1.5], "labels": false, "tickSize": -7, "tickWidth": 2, "domain": true, "domainWidth": 2.5, "title": null, "zindex": 1}}
      }
    },
    {
      "data": {"values": [{}]},
      "mark": {"type": "rule", "opacity": 0},
      "encoding": {
        "y": {"datum": 1, "type": "quantitative", "scale": {"domain": [0.134, 1.862], "range": [934, 755], "clamp": true, "nice": false, "zero": false},
          "axis": {"orient": "right", "values": [0.25, 0.75, 1.25, 1.75], "labels": false, "tickSize": -3.5, "tickWidth": 2, "domain": false, "title": null, "zindex": 1}}
      }
    },
    {
      "data": {"values": [{"v":10000,"b":"10","e":"4"},{"v":100000,"b":"10","e":"5"},{"v":1000000,"b":"10","e":"6"},{"v":10000000,"b":"10","e":"7"},{"v":100000000,"b":"10","e":"8"}]},
      "layer": [
        {
          "mark": {"type": "text", "font": "Liberation Sans", "fontSize": 53, "align": "right", "baseline": "alphabetic", "dx": -31, "dy": 26, "color": "black"},
          "encoding": {
            "x": {"datum": 0, "type": "quantitative", "axis": null},
            "y": {"field": "v", "type": "quantitative", "scale": {"type": "log", "domain": [3392, 181100000], "range": [755, 0], "clamp": true, "nice": false}, "axis": null},
            "text": {"field": "b"}
          }
        },
        {
          "mark": {"type": "text", "font": "Liberation Sans", "fontSize": 24, "align": "left", "baseline": "alphabetic", "dx": -29, "dy": 1, "color": "black"},
          "encoding": {
            "x": {"datum": 0, "type": "quantitative", "axis": null},
            "y": {"field": "v", "type": "quantitative", "scale": {"type": "log", "domain": [3392, 181100000], "range": [755, 0], "clamp": true, "nice": false}, "axis": null},
            "text": {"field": "e"}
          }
        }
      ]
    },
    {
      "data": {"values": [
        {"x":0.1075,"y":35060000,"t":"L dt = 36.3 ± 1.0 pb"},
        {"x":0.7677,"y":35060000,"t":","},
        {"x":0.8043,"y":35060000,"t":"√"},
        {"x":0.8409,"y":35060000,"t":"s = 8 TeV"},
        {"x":0.0796,"y":15860000,"t":"Dijet Selection, anti-k"},
        {"x":0.7806,"y":15860000,"t":"R=0.7 LC"},
        {"x":0.1118,"y":6975000,"t":"z = 0.1, d = m/p"},
        {"x":0.6301,"y":6975000,"t":", C/A Pruning"},
        {"x":0.2839,"y":3201000,"t":"N"},
        {"x":0.4774,"y":3201000,"t":"= 75, α = 0.1"}
      ]},
      "mark": {"type": "text", "font": "Liberation Sans", "fontSize": 33, "align": "left", "baseline": "alphabetic", "color": "black"},
      "encoding": {
        "x": {"field": "x", "type": "quantitative", "axis": null},
        "y": {"field": "y", "type": "quantitative", "scale": {"type": "log", "domain": [3392, 181100000], "range": [755, 0], "clamp": true, "nice": false}, "axis": null},
        "text": {"field": "t"}
      }
    },
    {
      "data": {"values": [
        {"x":0.7226,"y":48140000,"t":"-1"},
        {"x":0.7505,"y":11890000,"t":"t"},
        {"x":0.6000,"y":5379000,"t":"T"},
        {"x":0.3376,"y":2772000,"t":"Q-jets"}
      ]},
      "mark": {"type": "text", "font": "Liberation Sans", "fontSize": 21, "align": "left", "baseline": "alphabetic", "color": "black"},
      "encoding": {
        "x": {"field": "x", "type": "quantitative", "axis": null},
        "y": {"field": "y", "type": "quantitative", "scale": {"type": "log", "domain": [3392, 181100000], "range": [755, 0], "clamp": true, "nice": false}, "axis": null},
        "text": {"field": "t"}
      }
    },
    {
      "data": {"values": [{"x":0.1763,"y":67080000,"t":"ATLAS"}]},
      "mark": {"type": "text", "font": "Liberation Sans", "fontSize": 37, "fontWeight": "bold", "fontStyle": "italic", "align": "left", "baseline": "alphabetic", "color": "black"},
      "encoding": {
        "x": {"field": "x", "type": "quantitative", "axis": null},
        "y": {"field": "y", "type": "quantitative", "scale": {"type": "log", "domain": [3392, 181100000], "range": [755, 0], "clamp": true, "nice": false}, "axis": null},
        "text": {"field": "t"}
      }
    },
    {
      "data": {"values": [{"x":0.5011,"y":67080000,"t":"Preliminary"}]},
      "mark": {"type": "text", "font": "Liberation Sans", "fontSize": 37, "align": "left", "baseline": "alphabetic", "color": "black"},
      "encoding": {
        "x": {"field": "x", "type": "quantitative", "axis": null},
        "y": {"field": "y", "type": "quantitative", "scale": {"type": "log", "domain": [3392, 181100000], "range": [755, 0], "clamp": true, "nice": false}, "axis": null},
        "text": {"field": "t"}
      }
    },
    {
      "data": {"values": [{"x":0.0344,"y":30350000,"t":"∫"}]},
      "mark": {"type": "text", "font": "Liberation Serif", "fontSize": 80, "align": "left", "baseline": "alphabetic", "color": "black"},
      "encoding": {
        "x": {"field": "x", "type": "quantitative", "axis": null},
        "y": {"field": "y", "type": "quantitative", "scale": {"type": "log", "domain": [3392, 181100000], "range": [755, 0], "clamp": true, "nice": false}, "axis": null},
        "text": {"field": "t"}
      }
    },
    {
      "data": {"values": [{"x":1.3462,"y":47950000,"t":"Data"},{"x":1.3505,"y":23310000,"t":"Pythia Dijets"}]},
      "mark": {"type": "text", "font": "Liberation Sans", "fontSize": 43, "align": "left", "baseline": "alphabetic", "color": "black"},
      "encoding": {
        "x": {"field": "x", "type": "quantitative", "axis": null},
        "y": {"field": "y", "type": "quantitative", "scale": {"type": "log", "domain": [3392, 181100000], "range": [755, 0], "clamp": true, "nice": false}, "axis": null},
        "text": {"field": "t"}
      }
    },
    {
      "data": {"values": [{"x":1.3505,"y":10000000,"t":"σ"}]},
      "mark": {"type": "text", "font": "Liberation Sans", "fontSize": 42, "align": "left", "baseline": "alphabetic", "color": "black"},
      "encoding": {
        "x": {"field": "x", "type": "quantitative", "axis": null},
        "y": {"field": "y", "type": "quantitative", "scale": {"type": "log", "domain": [3392, 181100000], "range": [755, 0], "clamp": true, "nice": false}, "axis": null},
        "text": {"field": "t"}
      }
    },
    {
      "data": {"values": [{"x":1.4022,"y":8055000,"t":"stat"}]},
      "mark": {"type": "text", "font": "Liberation Sans", "fontSize": 30, "align": "left", "baseline": "alphabetic", "color": "black"},
      "encoding": {
        "x": {"field": "x", "type": "quantitative", "axis": null},
        "y": {"field": "y", "type": "quantitative", "scale": {"type": "log", "domain": [3392, 181100000], "range": [755, 0], "clamp": true, "nice": false}, "axis": null},
        "text": {"field": "t"}
      }
    },
    {
      "data": {"values": [
        {"x":1.1849,"y":59520000,"x2":1.3226,"y2":59520000},
        {"x":0.8387,"y":54830000,"x2":0.8839,"y2":54830000}
      ]},
      "mark": {"type": "rule", "color": "black", "strokeWidth": 2},
      "encoding": {
        "x": {"field": "x", "type": "quantitative", "axis": null},
        "x2": {"field": "x2"},
        "y": {"field": "y", "type": "quantitative", "scale": {"type": "log", "domain": [3392, 181100000], "range": [755, 0], "clamp": true, "nice": false}, "axis": null},
        "y2": {"field": "y2"}
      }
    },
    {
      "data": {"values": [{}]},
      "mark": {"type": "circle", "size": 215, "color": "black", "opacity": 1},
      "encoding": {
        "x": {"datum": 1.2566, "type": "quantitative", "axis": null},
        "y": {"datum": 59520000, "type": "quantitative", "scale": {"type": "log", "domain": [3392, 181100000], "range": [755, 0], "clamp": true, "nice": false}, "axis": null}
      }
    },
    {
      "data": {"values": [{}]},
      "mark": {"type": "rect", "fill": "#ffff00", "stroke": "black", "strokeWidth": 1.5},
      "encoding": {
        "x": {"datum": 1.1849, "type": "quantitative", "axis": null},
        "x2": {"datum": 1.3226},
        "y": {"datum": 34700000, "type": "quantitative", "scale": {"type": "log", "domain": [3392, 181100000], "range": [755, 0], "clamp": true, "nice": false}, "axis": null},
        "y2": {"datum": 18770000}
      }
    },
    {
      "data": {"values": [{}]},
      "mark": {"type": "rect", "stroke": "black", "strokeWidth": 1.5,
        "fill": {"gradient": "linear", "x1": 0, "y1": 0, "x2": 1.159, "y2": 0.756, "stops": [
          {"offset":0.05,"color":"transparent"},{"offset":0.06,"color":"#000"},{"offset":0.07,"color":"#000"},{"offset":0.08,"color":"transparent"},
          {"offset":0.175,"color":"transparent"},{"offset":0.185,"color":"#000"},{"offset":0.195,"color":"#000"},{"offset":0.205,"color":"transparent"},
          {"offset":0.3,"color":"transparent"},{"offset":0.31,"color":"#000"},{"offset":0.32,"color":"#000"},{"offset":0.33,"color":"transparent"},
          {"offset":0.425,"color":"transparent"},{"offset":0.435,"color":"#000"},{"offset":0.445,"color":"#000"},{"offset":0.455,"color":"transparent"},
          {"offset":0.55,"color":"transparent"},{"offset":0.56,"color":"#000"},{"offset":0.57,"color":"#000"},{"offset":0.58,"color":"transparent"},
          {"offset":0.675,"color":"transparent"},{"offset":0.685,"color":"#000"},{"offset":0.695,"color":"#000"},{"offset":0.705,"color":"transparent"},
          {"offset":0.8,"color":"transparent"},{"offset":0.81,"color":"#000"},{"offset":0.82,"color":"#000"},{"offset":0.83,"color":"transparent"},
          {"offset":0.925,"color":"transparent"},{"offset":0.935,"color":"#000"},{"offset":0.945,"color":"#000"},{"offset":0.955,"color":"transparent"}
        ]}},
      "encoding": {
        "x": {"datum": 1.1849, "type": "quantitative", "axis": null},
        "x2": {"datum": 1.3226},
        "y": {"datum": 14760000, "type": "quantitative", "scale": {"type": "log", "domain": [3392, 181100000], "range": [755, 0], "clamp": true, "nice": false}, "axis": null},
        "y2": {"datum": 8088000}
      }
    },
    {
      "data": {"values": [
        {"x":0.6968,"y":264200,"t":"ν"},
        {"x":1.1871,"y":567500,"t":"m"},
        {"x":1.6473,"y":567500,"t":"m"},
        {"x":1.3355,"y":128500,"t":"m"}
      ]},
      "mark": {"type": "text", "font": "Liberation Serif", "fontStyle": "italic", "fontSize": 64, "align": "left", "baseline": "alphabetic", "color": "black"},
      "encoding": {
        "x": {"field": "x", "type": "quantitative", "axis": null},
        "y": {"field": "y", "type": "quantitative", "scale": {"type": "log", "domain": [3392, 181100000], "range": [755, 0], "clamp": true, "nice": false}, "axis": null},
        "text": {"field": "t"}
      }
    },
    {
      "data": {"values": [
        {"x":0.7914,"y":264200,"t":"="},
        {"x":1.4452,"y":567500,"t":"−"}
      ]},
      "mark": {"type": "text", "font": "Liberation Serif", "fontSize": 64, "align": "left", "baseline": "alphabetic", "color": "black"},
      "encoding": {
        "x": {"field": "x", "type": "quantitative", "axis": null},
        "y": {"field": "y", "type": "quantitative", "scale": {"type": "log", "domain": [3392, 181100000], "range": [755, 0], "clamp": true, "nice": false}, "axis": null},
        "text": {"field": "t"}
      }
    },
    {
      "data": {"values": [
        {"x":1.1226,"y":567500,"t":"⟨"},
        {"x":1.3355,"y":567500,"t":"⟩"},
        {"x":1.6,"y":567500,"t":"⟨"},
        {"x":1.7570,"y":567500,"t":"⟩"},
        {"x":1.2895,"y":128500,"t":"⟨"},
        {"x":1.4559,"y":128500,"t":"⟩"}
      ]},
      "mark": {"type": "text", "font": "DejaVu Serif", "fontSize": 50, "align": "left", "baseline": "alphabetic", "color": "black"},
      "encoding": {
        "x": {"field": "x", "type": "quantitative", "axis": null},
        "y": {"field": "y", "type": "quantitative", "scale": {"type": "log", "domain": [3392, 181100000], "range": [755, 0], "clamp": true, "nice": false}, "axis": null},
        "text": {"field": "t"}
      }
    },
    {
      "data": {"values": [
        {"x":1.2925,"y":874700,"t":"2"},
        {"x":1.7978,"y":1134000,"t":"2"}
      ]},
      "mark": {"type": "text", "font": "Liberation Serif", "fontSize": 40, "align": "left", "baseline": "alphabetic", "color": "black"},
      "encoding": {
        "x": {"field": "x", "type": "quantitative", "axis": null},
        "y": {"field": "y", "type": "quantitative", "scale": {"type": "log", "domain": [3392, 181100000], "range": [755, 0], "clamp": true, "nice": false}, "axis": null},
        "text": {"field": "t"}
      }
    },
    {
      "data": {"values": [
        {"x":0.9871,"y":919900,"x2":1.003,"y2":974300},
        {"x":1.0308,"y":402600,"x2":1.1144,"y2":2748000},
        {"x":1.1144,"y":2748000,"x2":1.8701,"y2":2748000},
        {"x":0.9712,"y":339200,"x2":1.8662,"y2":339200}
      ]},
      "mark": {"type": "rule", "color": "black", "strokeWidth": 2.6},
      "encoding": {
        "x": {"field": "x", "type": "quantitative", "axis": null},
        "x2": {"field": "x2"},
        "y": {"field": "y", "type": "quantitative", "scale": {"type": "log", "domain": [3392, 181100000], "range": [755, 0], "clamp": true, "nice": false}, "axis": null},
        "y2": {"field": "y2"}
      }
    },
    {
      "data": {"values": [{"x":1.003,"y":974300,"x2":1.0308,"y2":402600}]},
      "mark": {"type": "rule", "color": "black", "strokeWidth": 5},
      "encoding": {
        "x": {"field": "x", "type": "quantitative", "axis": null},
        "x2": {"field": "x2"},
        "y": {"field": "y", "type": "quantitative", "scale": {"type": "log", "domain": [3392, 181100000], "range": [755, 0], "clamp": true, "nice": false}, "axis": null},
        "y2": {"field": "y2"}
      }
    }
  ]
}
